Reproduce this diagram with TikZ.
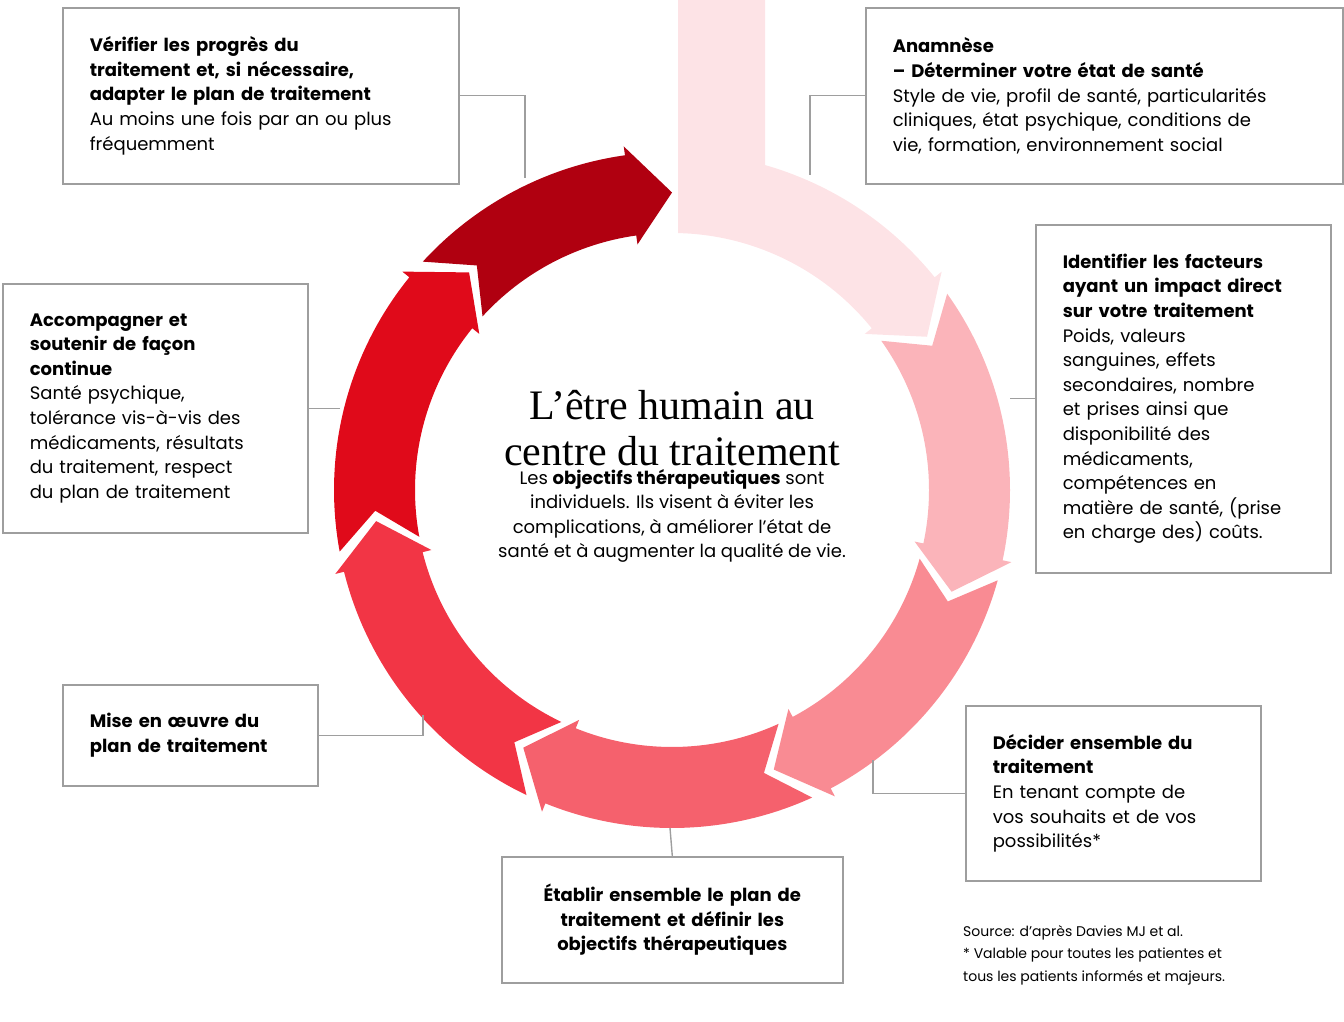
\documentclass[tikz,border=0pt]{standalone}
\usepackage{fontspec}
\setmainfont{Poppins}
\newfontfamily\titlefont{Liberation Serif}
\definecolor{segA}{HTML}{FDE3E6}
\definecolor{segB}{HTML}{FBB4BA}
\definecolor{segC}{HTML}{F98B93}
\definecolor{segD}{HTML}{F5616D}
\definecolor{segE}{HTML}{F23545}
\definecolor{segF}{HTML}{E00A1A}
\definecolor{segG}{HTML}{B00010}
\definecolor{frame}{HTML}{9E9E9E}
\begin{document}
\begin{tikzpicture}[x = 1pt, y = 1pt,
        box/.style = {draw = frame, line width = 1.6pt, anchor = north west, inner xsep = 27pt,
            align = left, font = \fontsize{18}{24.6}\selectfont},
        link/.style = {draw = frame, line width = 1.4pt}]
    \useasboundingbox (0, 0) rectangle (1344, 1022);
    % ring of arrows
    \begin{scope}[shift = {(672, 532)}]
        \fill[segA] (93, 490) -- (74:338) arc[start angle = 74, end angle = 39, radius = 338]
            -- (39:347) -- (31:297.5) -- (39:248) -- (39:257)
            arc[start angle = 39, end angle = 88.66, radius = 257] -- (6, 490) -- cycle;
        \foreach \t/\h/\c in {31/-20/segB, -20/-70/segC, -70/-120/segD, -120/-174/segE,
                -174/-227/segF, -227/-270/segG}
            \fill[\c] ({\t+4.5}:338) arc[start angle = \t+4.5, end angle = \h+8, radius = 338]
                -- ({\h+8}:347) -- (\h:297.5) -- ({\h+8}:248) -- ({\h+8}:257)
                arc[start angle = \h+8, end angle = \t+4.5, radius = 257] -- ({\t-2}:297.5) -- cycle;
        \node[font = \titlefont\fontsize{42}{46}\selectfont, align = center] (title) at (0, 62)
            {L’être humain au\\centre du traitement};
        \node[font = \fontsize{18}{24.6}\selectfont, align = center] (goals) at (0, -26)
            {Les \textbf{objectifs thérapeutiques} sont\\individuels. Ils visent à éviter les\\
            complications, à améliorer l’état de\\santé et à augmenter la qualité de vie.};
    \end{scope}
    % boxes
    \node[box, minimum width = 396, minimum height = 176, text width = 342] (check) at (62, 1015)
        {\textbf{Vérifier les progrès du\\traitement et, si nécessaire,\\adapter le plan de traitement}\\
        Au moins une fois par an ou plus\\fréquemment};
    \node[box, minimum width = 477, minimum height = 176, text width = 423] (anam) at (865, 1015)
        {\textbf{Anamnèse\\– Déterminer votre état de santé}\\Style de vie, profil de santé, particularités\\
        cliniques, état psychique, conditions de\\vie, formation, environnement social};
    \node[box, minimum width = 295, minimum height = 348, text width = 241] (factors) at (1035, 798)
        {\textbf{Identifier les facteurs\\ayant un impact direct\\sur votre traitement}\\Poids, valeurs\\
        sanguines, effets\\secondaires, nombre\\et prises ainsi que\\disponibilité des\\médicaments,\\
        compétences en\\matière de santé, (prise\\en charge des) coûts.};
    \node[box, minimum width = 295, minimum height = 175, text width = 241] (decide) at (965, 317)
        {\textbf{Décider ensemble du\\traitement}\\En tenant compte de\\vos souhaits et de vos\\possibilités*};
    \node[box, align = center, minimum width = 341, minimum height = 126, text width = 287] (plan) at (501, 166)
        {\textbf{Établir ensemble le plan de\\traitement et définir les\\objectifs thérapeutiques}};
    \node[box, minimum width = 255, minimum height = 101, text width = 201] (start) at (62, 338)
        {\textbf{Mise en œuvre du\\plan de traitement}};
    \node[box, minimum width = 305, minimum height = 249, text width = 251] (support) at (2, 739)
        {\textbf{Accompagner et\\soutenir de façon\\continue}\\Santé psychique,\\tolérance vis-à-vis des\\
        médicaments, résultats\\du traitement, respect\\du plan de traitement};
    % links to the ring
    \coordinate (ringA) at (525, 844);
    \coordinate (ringB) at (810, 847);
    \coordinate (ringC) at (1010, 573);
    \coordinate (ringD) at (873, 262);
    \coordinate (ringE) at (670, 194);
    \coordinate (ringF) at (423, 307);
    \coordinate (ringG) at (340, 613);
    \draw[link] (check.east) -| (ringA);
    \draw[link] (anam.west) -| (ringB);
    \draw[link] (factors.west) -- (ringC |- factors.west);
    \draw[link] (decide.west) -| (ringD);
    \draw[link] (plan.north) -- (ringE);
    \draw[link] (start.east) -| (ringF);
    \draw[link] (support.east) -- (ringG |- support.east);
    \node[anchor = north west, align = left, inner sep = 0pt, font = \fontsize{14}{22.5}\selectfont]
        (source) at (963, 97) {Source: d’après Davies MJ et al.\\* Valable pour toutes les patientes et\\
        tous les patients informés et majeurs.};
\end{tikzpicture}
\end{document}
